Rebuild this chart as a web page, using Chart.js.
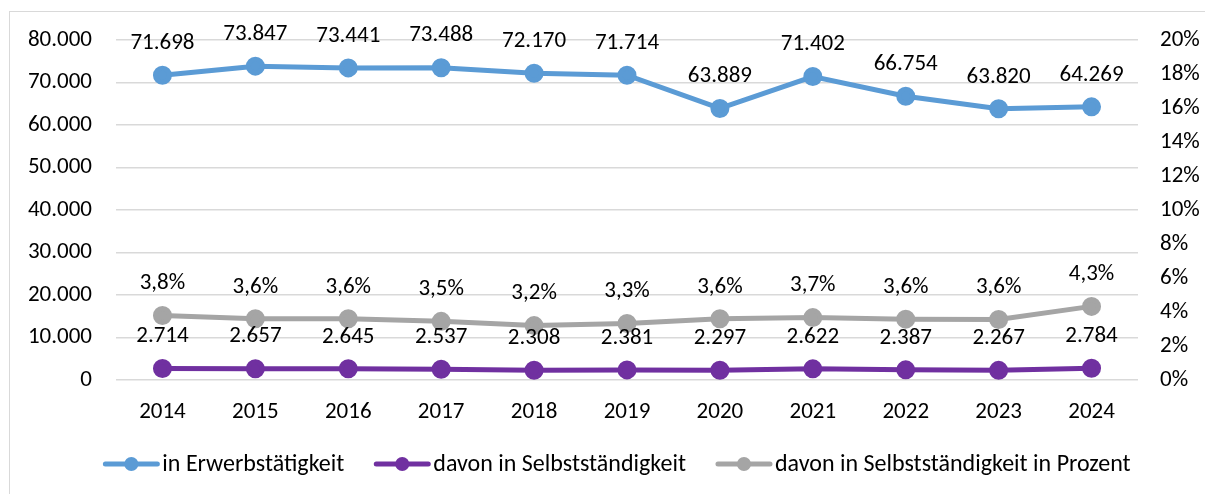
<!DOCTYPE html>
<html>
<head>
<meta charset="utf-8">
<script src="https://cdn.jsdelivr.net/npm/chart.js@4.4.1/dist/chart.umd.min.js"></script>
<style>
  html, body { margin: 0; padding: 0; background: #fff; }
  #wrap { width: 1205px; height: 494px; }
</style>
</head>
<body>
<div id="wrap"><canvas id="chart"></canvas></div>
<script>
const jahre = ["2014", "2015", "2016", "2017", "2018", "2019", "2020", "2021", "2022", "2023", "2024"];
const erwerb = [71698, 73847, 73441, 73488, 72170, 71714, 63889, 71402, 66754, 63820, 64269];
const selbst = [2714, 2657, 2645, 2537, 2308, 2381, 2297, 2622, 2387, 2267, 2784];
const prozent = [3.79, 3.60, 3.60, 3.45, 3.20, 3.32, 3.60, 3.67, 3.58, 3.56, 4.33];

const FONT = "Carlito, 'Open Sans', sans-serif";
const fmtZahl = v => String(Math.round(v)).replace(/\B(?=(\d{3})+(?!\d))/g, ".");
const fmtProz = v => v.toFixed(1).replace(".", ",") + "%";

// Werte über den Punkten
const labelPlugin = {
  id: "wertLabels",
  afterDatasetsDraw(chart) {
    const ctx = chart.ctx;
    ctx.save();
    ctx.font = "23px " + FONT;
    ctx.fillStyle = "#000";
    ctx.textAlign = "center";
    ctx.textBaseline = "middle";
    chart.data.datasets.forEach((ds, i) => {
      chart.getDatasetMeta(i).data.forEach((pt, j) => {
        const txt = ds.yAxisID === "y1" ? fmtProz(ds.data[j]) : fmtZahl(ds.data[j]);
        ctx.fillText(txt, pt.x, pt.y - 32);
      });
    });
    ctx.restore();
  }
};

// Rahmen und Legende im Excel-Stil
const rahmenLegende = {
  id: "rahmenLegende",
  beforeDraw(chart) {
    const ctx = chart.ctx;
    ctx.save();
    ctx.strokeStyle = "#d9d9d9";
    ctx.lineWidth = 1;
    ctx.strokeRect(9.5, 11.5, 1200, 490);
    ctx.restore();
  },
  afterDraw(chart) {
    const ctx = chart.ctx;
    ctx.save();
    ctx.font = "24px " + FONT;
    ctx.textBaseline = "middle";
    ctx.fillStyle = "#000";
    const lineW = 56, gapText = 3, gapItem = 30, y = 464;
    const items = chart.data.datasets.map(ds => ({
      text: ds.label, color: ds.borderColor, w: ctx.measureText(ds.label).width
    }));
    const total = items.reduce((s, it) => s + lineW + gapText + it.w, 0) + gapItem * (items.length - 1);
    let x = 617 - total / 2;
    items.forEach(it => {
      ctx.strokeStyle = it.color;
      ctx.lineWidth = 5;
      ctx.lineCap = "round";
      ctx.beginPath();
      ctx.moveTo(x + 2, y);
      ctx.lineTo(x + lineW - 2, y);
      ctx.stroke();
      ctx.fillStyle = it.color;
      ctx.beginPath();
      ctx.arc(x + lineW / 2, y, 7, 0, Math.PI * 2);
      ctx.fill();
      ctx.fillStyle = "#000";
      ctx.textAlign = "left";
      ctx.fillText(it.text, x + lineW + gapText, y + 1);
      x += lineW + gapText + it.w + gapItem;
    });
    ctx.restore();
  }
};

new Chart(document.getElementById("chart"), {
  type: "line",
  data: {
    labels: jahre,
    datasets: [
      {
        label: "in Erwerbstätigkeit",
        data: erwerb,
        yAxisID: "y",
        borderColor: "#5B9BD5",
        backgroundColor: "#5B9BD5",
        borderWidth: 5,
        pointRadius: 7,
        pointHoverRadius: 7,
        tension: 0
      },
      {
        label: "davon in Selbstständigkeit",
        data: selbst,
        yAxisID: "y",
        borderColor: "#7030A0",
        backgroundColor: "#7030A0",
        borderWidth: 5,
        pointRadius: 7,
        pointHoverRadius: 7,
        tension: 0
      },
      {
        label: "davon in Selbstständigkeit in Prozent",
        data: prozent,
        yAxisID: "y1",
        borderColor: "#A5A5A5",
        backgroundColor: "#A5A5A5",
        borderWidth: 5,
        pointRadius: 7,
        pointHoverRadius: 7,
        tension: 0
      }
    ]
  },
  options: {
    responsive: true,
    maintainAspectRatio: false,
    animation: false,
    layout: { padding: { top: 40, bottom: 0, left: 0, right: 0 } },
    plugins: {
      legend: { display: false },
      tooltip: { enabled: false }
    },
    scales: {
      x: {
        offset: true,
        grid: { display: false, drawTicks: false },
        border: { display: false },
        ticks: { color: "#000", font: { family: FONT, size: 23 }, padding: 18, maxRotation: 0 },
        afterFit: s => { s.height = 114; }
      },
      y: {
        position: "left",
        min: 0,
        max: 80000,
        grid: { color: "#d9d9d9", lineWidth: 1.5, drawTicks: false },
        border: { display: false },
        ticks: {
          stepSize: 10000,
          color: "#000",
          font: { family: FONT, size: 23 },
          padding: 24,
          callback: v => fmtZahl(v)
        },
        afterFit: s => { s.width = 116; }
      },
      y1: {
        position: "right",
        min: 0,
        max: 20,
        grid: { display: false, drawTicks: false },
        border: { display: false },
        ticks: {
          stepSize: 2,
          color: "#000",
          font: { family: FONT, size: 23 },
          padding: 22,
          callback: v => v + "%"
        },
        afterFit: s => { s.width = 67; }
      }
    }
  },
  plugins: [labelPlugin, rahmenLegende]
});
</script>
</body>
</html>
